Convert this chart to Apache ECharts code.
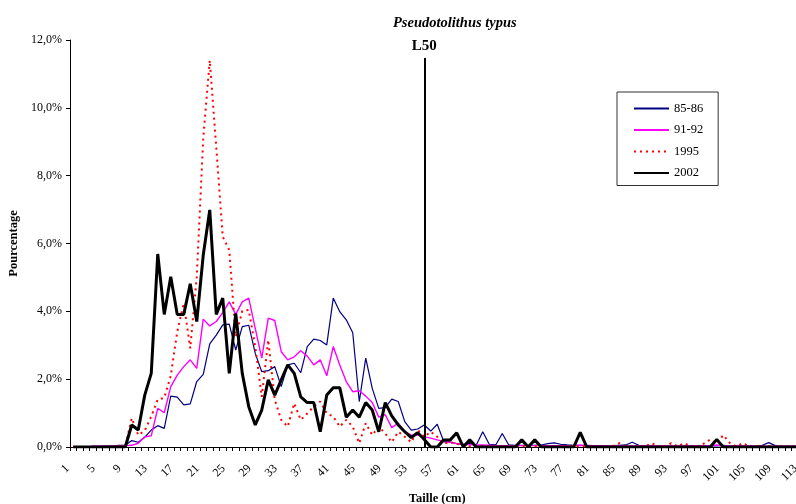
<!DOCTYPE html>
<html>
<head>
<meta charset="UTF-8">
<title>Pseudotolithus typus</title>
<script src="https://cdn.jsdelivr.net/npm/echarts@6/dist/echarts.min.js"></script>
<style>
  html, body { margin: 0; padding: 0; background: #fff; }
</style>
</head>
<body>
<div id="main" style="width:796px;height:504px"></div>
<script type="text/javascript">
// tailles (cm)
var sizes = ['1','2','3','4','5','6','7','8','9','10','11','12','13','14','15','16','17','18','19','20',
  '21','22','23','24','25','26','27','28','29','30','31','32','33','34','35','36','37','38','39','40',
  '41','42','43','44','45','46','47','48','49','50','51','52','53','54','55','56','57','58','59','60',
  '61','62','63','64','65','66','67','68','69','70','71','72','73','74','75','76','77','78','79','80',
  '81','82','83','84','85','86','87','88','89','90','91','92','93','94','95','96','97','98','99','100',
  '101','102','103','104','105','106','107','108','109','110','111','112','113'];

// pourcentages par campagne
var s8586 = [0,0,0,0.02,0.02,0.03,0.03,0.05,0.05,0.19,
  0.14,0.29,0.50,0.63,0.55,1.50,1.47,1.24,1.27,1.93,
  2.14,3.04,3.30,3.60,3.62,2.86,3.55,3.59,2.76,2.22,
  2.25,2.37,1.78,2.42,2.47,2.19,2.96,3.18,3.14,3.01,
  4.39,3.99,3.75,3.37,1.34,2.62,1.73,1.14,1.16,1.41,
  1.34,0.75,0.50,0.53,0.65,0.47,0.67,0.16,0.14,0.10,
  0.08,0.10,0.06,0.45,0.08,0.06,0.40,0.06,0.05,0.05,
  0.05,0.05,0.06,0.10,0.12,0.08,0.06,0.05,0.05,0.05,
  0.04,0.04,0.03,0.04,0.05,0.06,0.14,0.05,0.03,0.03,
  0.03,0.03,0.03,0.03,0.03,0.03,0.03,0.03,0.03,0.03,
  0.05,0.03,0.03,0.03,0.03,0.03,0.05,0.13,0.04,0.02,
  0.02,0.02,0.02];
var s9192 = [0,0,0,0.02,0.02,0.02,0.02,0.03,0.04,0.05,
  0.11,0.30,0.33,1.14,1.01,1.78,2.12,2.37,2.57,2.32,
  3.77,3.57,3.70,3.96,4.28,3.91,4.28,4.39,3.50,2.62,
  3.80,3.73,2.81,2.57,2.66,2.84,2.68,2.42,2.57,2.10,
  2.96,2.42,1.93,1.63,1.66,1.50,1.31,0.88,0.95,0.57,
  0.70,0.45,0.35,0.35,0.30,0.26,0.21,0.16,0.14,0.10,
  0.08,0.07,0.06,0.06,0.05,0.04,0.04,0.04,0.04,0.04,
  0.04,0.04,0.04,0.04,0.04,0.04,0.04,0.04,0.05,0.03,
  0.03,0.03,0.03,0.03,0.03,0.03,0.03,0.03,0.03,0.03,
  0.03,0.03,0.03,0.03,0.03,0.03,0.03,0.03,0.03,0.06,
  0.03,0.03,0.03,0.03,0.02,0.02,0.02,0.02,0.02,0.02,
  0.02,0.02,0.02];
var s1995 = [0,0,0,0,0,0.02,0.02,0.02,0.02,0.85,
  0.35,0.48,0.90,1.40,1.45,2.10,3.40,4.24,2.91,5.02,
  9.10,11.40,8.85,6.20,5.81,3.25,4.01,4.04,2.96,1.48,
  3.16,1.39,0.80,0.60,1.29,0.80,0.99,1.19,1.34,0.99,
  0.90,0.60,0.80,0.60,0.11,0.70,0.35,0.60,0.40,0.14,
  0.45,0.30,0.14,0.50,0.30,0.45,0.30,0.10,0.14,0.10,
  0.05,0.02,0.02,0.02,0.02,0.02,0.02,0.02,0.02,0.02,
  0.02,0.02,0.02,0.02,0.02,0.02,0.02,0.02,0.02,0.02,
  0.02,0.02,0.02,0.02,0.11,0.02,0.02,0.02,0.02,0.11,
  0.02,0.02,0.11,0.02,0.11,0.02,0.02,0.10,0.22,0.10,
  0.35,0.12,0.02,0.11,0.02,0.02,0.02,0.02,0.02,0.02,
  0.02,0.02,0.02];
var s2002 = [0,0,0,0,0,0,0,0,0,0.65,
  0.50,1.53,2.17,5.69,3.91,5.02,3.91,3.91,4.81,3.70,
  5.66,6.99,3.91,4.39,2.17,3.94,2.17,1.19,0.65,1.09,
  1.98,1.53,1.98,2.42,2.17,1.48,1.31,1.31,0.45,1.53,
  1.75,1.75,0.88,1.09,0.88,1.31,1.09,0.45,1.31,0.92,
  0.65,0.45,0.28,0.42,0.22,0,0,0.21,0.21,0.42,
  0,0.21,0,0,0,0,0,0,0,0.21,
  0,0.21,0,0,0,0,0,0,0.43,0,
  0,0,0,0,0,0,0,0,0,0,
  0,0,0,0,0,0,0,0,0,0.22,
  0,0,0,0,0,0,0,0,0,0,
  0,0,0];

var seriesNames = ['85-86', '91-92', '1995', '2002'];
var yTicks = [0, 2, 4, 6, 8, 10, 12];
var L50_SIZE = '55';
var L50_TOP = 11.47;

var serif = 'Liberation Serif';
var chart = echarts.init(document.getElementById('main'));

var option = {
  animation: false,
  backgroundColor: '#fff',
  title: {
    text: 'Pseudotolithus typus',
    left: 388,
    top: 11,
    textStyle: { fontFamily: serif, fontStyle: 'italic', fontWeight: 'bold', fontSize: 14.5, color: '#000' }
  },
  legend: {
    data: seriesNames,
    orient: 'vertical',
    left: 617,
    top: 92,
    backgroundColor: '#fff',
    borderColor: '#333',
    borderWidth: 1,
    borderRadius: 0,
    padding: [10, 15, 6, 16],
    itemWidth: 35,
    itemHeight: 10,
    itemGap: 8.5,
    itemStyle: { opacity: 0 },
    textStyle: { fontFamily: serif, fontSize: 12.5, color: '#000' }
  },
  grid: { left: 70, top: 40, width: 734.5, height: 407, outerBoundsMode: 'none', containLabel: false },
  xAxis: {
    type: 'category',
    data: sizes,
    boundaryGap: true,
    name: 'Taille (cm)',
    nameLocation: 'middle',
    nameGap: 45,
    nameTextStyle: { fontFamily: serif, fontWeight: 'bold', fontSize: 12.5, color: '#000' },
    axisLine: { lineStyle: { color: '#000', width: 1 } },
    axisTick: { show: true, interval: 0, length: 4, lineStyle: { color: '#000' } },
    axisLabel: {
      interval: 3, rotate: 45, margin: 14, padding: [0, 8, 0, 0],
      fontFamily: serif, fontSize: 12, color: '#000'
    },
    splitLine: { show: false }
  },
  yAxis: {
    type: 'value',
    min: yTicks[0],
    max: yTicks[yTicks.length - 1],
    interval: 2,
    name: 'Pourcentage',
    nameLocation: 'middle',
    nameRotate: 90,
    nameGap: 46,
    nameTextStyle: { fontFamily: serif, fontWeight: 'bold', fontSize: 12.5, color: '#000' },
    axisLine: { show: true, lineStyle: { color: '#000', width: 1 } },
    axisTick: { show: true, length: 4, lineStyle: { color: '#000' } },
    axisLabel: {
      margin: 8, fontFamily: serif, fontSize: 12, color: '#000',
      formatter: function (v) { return v.toFixed(1).replace('.', ',') + '%'; }
    },
    splitLine: { show: false }
  },
  series: [
    { name: seriesNames[0], type: 'line', data: s8586, symbol: 'none', lineStyle: { color: '#000080', width: 1.2 }, itemStyle: { color: '#000080' } },
    { name: seriesNames[1], type: 'line', data: s9192, symbol: 'none', lineStyle: { color: '#ff00ff', width: 1.4 }, itemStyle: { color: '#ff00ff' } },
    { name: seriesNames[2], type: 'line', data: s1995, symbol: 'none', lineStyle: { color: '#ff0000', width: 2, type: [2, 4] }, itemStyle: { color: '#ff0000' } },
    { name: seriesNames[3], type: 'line', data: s2002, symbol: 'none', lineStyle: { color: '#000', width: 3 }, itemStyle: { color: '#000' },
      markLine: {
        silent: true,
        symbol: ['none', 'none'],
        lineStyle: { color: '#000', width: 2, type: 'solid' },
        label: { show: true, position: 'end', formatter: 'L50', fontFamily: serif, fontWeight: 'bold', fontSize: 15, color: '#000', distance: 4 },
        data: [[{ xAxis: L50_SIZE, yAxis: 0 }, { xAxis: L50_SIZE, yAxis: L50_TOP }]]
      }
    }
  ]
};
chart.setOption(option);
</script>
</body>
</html>
